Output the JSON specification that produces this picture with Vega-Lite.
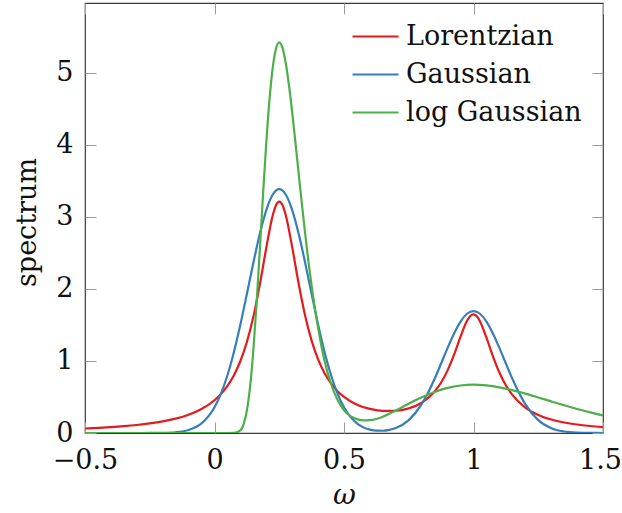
{
  "$schema": "https://vega.github.io/schema/vega-lite/v6.json",
  "width": 518,
  "height": 430,
  "autosize": {"type": "none"},
  "padding": {"left": 85, "top": 3, "right": 19, "bottom": 80},
  "background": "white",
  "data": {
    "values": [
      {"w": -0.5, "s": "Lorentzian", "v": 0.0626},
      {"w": -0.45, "s": "Lorentzian", "v": 0.0712},
      {"w": -0.4, "s": "Lorentzian", "v": 0.0817},
      {"w": -0.35, "s": "Lorentzian", "v": 0.0947},
      {"w": -0.3, "s": "Lorentzian", "v": 0.1112},
      {"w": -0.25, "s": "Lorentzian", "v": 0.1325},
      {"w": -0.2, "s": "Lorentzian", "v": 0.1608},
      {"w": -0.15, "s": "Lorentzian", "v": 0.1992},
      {"w": -0.1, "s": "Lorentzian", "v": 0.2533},
      {"w": -0.05, "s": "Lorentzian", "v": 0.3326},
      {"w": 0, "s": "Lorentzian", "v": 0.4548},
      {"w": 0.025, "s": "Lorentzian", "v": 0.5416},
      {"w": 0.05, "s": "Lorentzian", "v": 0.6541},
      {"w": 0.075, "s": "Lorentzian", "v": 0.8019},
      {"w": 0.1, "s": "Lorentzian", "v": 0.9988},
      {"w": 0.125, "s": "Lorentzian", "v": 1.2627},
      {"w": 0.15, "s": "Lorentzian", "v": 1.6133},
      {"w": 0.175, "s": "Lorentzian", "v": 2.0602},
      {"w": 0.2, "s": "Lorentzian", "v": 2.571},
      {"w": 0.225, "s": "Lorentzian", "v": 3.0219},
      {"w": 0.2375, "s": "Lorentzian", "v": 3.1611},
      {"w": 0.25, "s": "Lorentzian", "v": 3.2109},
      {"w": 0.2625, "s": "Lorentzian", "v": 3.1629},
      {"w": 0.275, "s": "Lorentzian", "v": 3.0256},
      {"w": 0.3, "s": "Lorentzian", "v": 2.5783},
      {"w": 0.325, "s": "Lorentzian", "v": 2.0714},
      {"w": 0.35, "s": "Lorentzian", "v": 1.6284},
      {"w": 0.375, "s": "Lorentzian", "v": 1.2819},
      {"w": 0.4, "s": "Lorentzian", "v": 1.0224},
      {"w": 0.425, "s": "Lorentzian", "v": 0.8303},
      {"w": 0.45, "s": "Lorentzian", "v": 0.6876},
      {"w": 0.475, "s": "Lorentzian", "v": 0.5808},
      {"w": 0.5, "s": "Lorentzian", "v": 0.5003},
      {"w": 0.55, "s": "Lorentzian", "v": 0.3932},
      {"w": 0.6, "s": "Lorentzian", "v": 0.3339},
      {"w": 0.65, "s": "Lorentzian", "v": 0.3074},
      {"w": 0.7, "s": "Lorentzian", "v": 0.3089},
      {"w": 0.75, "s": "Lorentzian", "v": 0.342},
      {"w": 0.8, "s": "Lorentzian", "v": 0.4202},
      {"w": 0.85, "s": "Lorentzian", "v": 0.5757},
      {"w": 0.875, "s": "Lorentzian", "v": 0.7005},
      {"w": 0.9, "s": "Lorentzian", "v": 0.8694},
      {"w": 0.925, "s": "Lorentzian", "v": 1.087},
      {"w": 0.95, "s": "Lorentzian", "v": 1.3369},
      {"w": 0.975, "s": "Lorentzian", "v": 1.5574},
      {"w": 0.9875, "s": "Lorentzian", "v": 1.6246},
      {"w": 1.0, "s": "Lorentzian", "v": 1.6472},
      {"w": 1.0125, "s": "Lorentzian", "v": 1.6209},
      {"w": 1.025, "s": "Lorentzian", "v": 1.5501},
      {"w": 1.05, "s": "Lorentzian", "v": 1.3222},
      {"w": 1.075, "s": "Lorentzian", "v": 1.0647},
      {"w": 1.1, "s": "Lorentzian", "v": 0.8392},
      {"w": 1.125, "s": "Lorentzian", "v": 0.6621},
      {"w": 1.15, "s": "Lorentzian", "v": 0.5285},
      {"w": 1.2, "s": "Lorentzian", "v": 0.3532},
      {"w": 1.25, "s": "Lorentzian", "v": 0.251},
      {"w": 1.3, "s": "Lorentzian", "v": 0.1878},
      {"w": 1.35, "s": "Lorentzian", "v": 0.1462},
      {"w": 1.4, "s": "Lorentzian", "v": 0.1175},
      {"w": 1.45, "s": "Lorentzian", "v": 0.0969},
      {"w": 1.5, "s": "Lorentzian", "v": 0.0815},

      {"w": -0.5, "s": "Gaussian", "v": 0},
      {"w": -0.4, "s": "Gaussian", "v": 0},
      {"w": -0.3, "s": "Gaussian", "v": 0.0001},
      {"w": -0.25, "s": "Gaussian", "v": 0.0004},
      {"w": -0.2, "s": "Gaussian", "v": 0.0023},
      {"w": -0.15, "s": "Gaussian", "v": 0.0107},
      {"w": -0.1, "s": "Gaussian", "v": 0.0412},
      {"w": -0.05, "s": "Gaussian", "v": 0.1326},
      {"w": 0, "s": "Gaussian", "v": 0.3568},
      {"w": 0.025, "s": "Gaussian", "v": 0.5471},
      {"w": 0.05, "s": "Gaussian", "v": 0.802},
      {"w": 0.075, "s": "Gaussian", "v": 1.124},
      {"w": 0.1, "s": "Gaussian", "v": 1.5059},
      {"w": 0.125, "s": "Gaussian", "v": 1.9287},
      {"w": 0.15, "s": "Gaussian", "v": 2.3616},
      {"w": 0.175, "s": "Gaussian", "v": 2.7645},
      {"w": 0.2, "s": "Gaussian", "v": 3.0937},
      {"w": 0.225, "s": "Gaussian", "v": 3.3097},
      {"w": 0.25, "s": "Gaussian", "v": 3.385},
      {"w": 0.275, "s": "Gaussian", "v": 3.3097},
      {"w": 0.3, "s": "Gaussian", "v": 3.0937},
      {"w": 0.325, "s": "Gaussian", "v": 2.7645},
      {"w": 0.35, "s": "Gaussian", "v": 2.3616},
      {"w": 0.375, "s": "Gaussian", "v": 1.9287},
      {"w": 0.4, "s": "Gaussian", "v": 1.5059},
      {"w": 0.425, "s": "Gaussian", "v": 1.124},
      {"w": 0.45, "s": "Gaussian", "v": 0.802},
      {"w": 0.475, "s": "Gaussian", "v": 0.5472},
      {"w": 0.5, "s": "Gaussian", "v": 0.357},
      {"w": 0.55, "s": "Gaussian", "v": 0.1338},
      {"w": 0.575, "s": "Gaussian", "v": 0.078},
      {"w": 0.6, "s": "Gaussian", "v": 0.0465},
      {"w": 0.625, "s": "Gaussian", "v": 0.0321},
      {"w": 0.65, "s": "Gaussian", "v": 0.0313},
      {"w": 0.675, "s": "Gaussian", "v": 0.0429},
      {"w": 0.7, "s": "Gaussian", "v": 0.0686},
      {"w": 0.75, "s": "Gaussian", "v": 0.1788},
      {"w": 0.8, "s": "Gaussian", "v": 0.4011},
      {"w": 0.85, "s": "Gaussian", "v": 0.7529},
      {"w": 0.875, "s": "Gaussian", "v": 0.9643},
      {"w": 0.9, "s": "Gaussian", "v": 1.1808},
      {"w": 0.925, "s": "Gaussian", "v": 1.3822},
      {"w": 0.95, "s": "Gaussian", "v": 1.5468},
      {"w": 0.975, "s": "Gaussian", "v": 1.6548},
      {"w": 1.0, "s": "Gaussian", "v": 1.6925},
      {"w": 1.025, "s": "Gaussian", "v": 1.6548},
      {"w": 1.05, "s": "Gaussian", "v": 1.5468},
      {"w": 1.075, "s": "Gaussian", "v": 1.3822},
      {"w": 1.1, "s": "Gaussian", "v": 1.1808},
      {"w": 1.125, "s": "Gaussian", "v": 0.9643},
      {"w": 1.15, "s": "Gaussian", "v": 0.7529},
      {"w": 1.2, "s": "Gaussian", "v": 0.401},
      {"w": 1.25, "s": "Gaussian", "v": 0.1784},
      {"w": 1.3, "s": "Gaussian", "v": 0.0663},
      {"w": 1.35, "s": "Gaussian", "v": 0.0206},
      {"w": 1.4, "s": "Gaussian", "v": 0.0053},
      {"w": 1.45, "s": "Gaussian", "v": 0.0012},
      {"w": 1.5, "s": "Gaussian", "v": 0.0002},

      {"w": -0.5, "s": "log Gaussian", "v": 0},
      {"w": 0, "s": "log Gaussian", "v": 0},
      {"w": 0.05, "s": "log Gaussian", "v": 0},
      {"w": 0.075, "s": "log Gaussian", "v": 0.001},
      {"w": 0.1, "s": "log Gaussian", "v": 0.0368},
      {"w": 0.1125, "s": "log Gaussian", "v": 0.1224},
      {"w": 0.125, "s": "log Gaussian", "v": 0.3115},
      {"w": 0.1375, "s": "log Gaussian", "v": 0.6473},
      {"w": 0.15, "s": "log Gaussian", "v": 1.1488},
      {"w": 0.1625, "s": "log Gaussian", "v": 1.7982},
      {"w": 0.175, "s": "log Gaussian", "v": 2.5441},
      {"w": 0.1875, "s": "log Gaussian", "v": 3.3136},
      {"w": 0.2, "s": "log Gaussian", "v": 4.0313},
      {"w": 0.2125, "s": "log Gaussian", "v": 4.6324},
      {"w": 0.225, "s": "log Gaussian", "v": 5.0738},
      {"w": 0.2375, "s": "log Gaussian", "v": 5.3359},
      {"w": 0.25, "s": "log Gaussian", "v": 5.42},
      {"w": 0.2625, "s": "log Gaussian", "v": 5.3438},
      {"w": 0.275, "s": "log Gaussian", "v": 5.1351},
      {"w": 0.2875, "s": "log Gaussian", "v": 4.8257},
      {"w": 0.3, "s": "log Gaussian", "v": 4.4481},
      {"w": 0.3125, "s": "log Gaussian", "v": 4.0315},
      {"w": 0.325, "s": "log Gaussian", "v": 3.6003},
      {"w": 0.3375, "s": "log Gaussian", "v": 3.1734},
      {"w": 0.35, "s": "log Gaussian", "v": 2.7658},
      {"w": 0.3625, "s": "log Gaussian", "v": 2.3864},
      {"w": 0.375, "s": "log Gaussian", "v": 2.0412},
      {"w": 0.3875, "s": "log Gaussian", "v": 1.7329},
      {"w": 0.4, "s": "log Gaussian", "v": 1.4613},
      {"w": 0.425, "s": "log Gaussian", "v": 1.0},
      {"w": 0.45, "s": "log Gaussian", "v": 0.68},
      {"w": 0.475, "s": "log Gaussian", "v": 0.46},
      {"w": 0.5, "s": "log Gaussian", "v": 0.315},
      {"w": 0.525, "s": "log Gaussian", "v": 0.235},
      {"w": 0.55, "s": "log Gaussian", "v": 0.192},
      {"w": 0.575, "s": "log Gaussian", "v": 0.175},
      {"w": 0.6, "s": "log Gaussian", "v": 0.178},
      {"w": 0.65, "s": "log Gaussian", "v": 0.226},
      {"w": 0.7, "s": "log Gaussian", "v": 0.312},
      {"w": 0.75, "s": "log Gaussian", "v": 0.4067},
      {"w": 0.8, "s": "log Gaussian", "v": 0.4948},
      {"w": 0.85, "s": "log Gaussian", "v": 0.5702},
      {"w": 0.9, "s": "log Gaussian", "v": 0.6257},
      {"w": 0.95, "s": "log Gaussian", "v": 0.6592},
      {"w": 1.0, "s": "log Gaussian", "v": 0.67},
      {"w": 1.05, "s": "log Gaussian", "v": 0.6603},
      {"w": 1.1, "s": "log Gaussian", "v": 0.6336},
      {"w": 1.15, "s": "log Gaussian", "v": 0.5941},
      {"w": 1.2, "s": "log Gaussian", "v": 0.546},
      {"w": 1.25, "s": "log Gaussian", "v": 0.4931},
      {"w": 1.3, "s": "log Gaussian", "v": 0.4386},
      {"w": 1.35, "s": "log Gaussian", "v": 0.3849},
      {"w": 1.4, "s": "log Gaussian", "v": 0.3338},
      {"w": 1.45, "s": "log Gaussian", "v": 0.2864},
      {"w": 1.5, "s": "log Gaussian", "v": 0.2435}
    ]
  },
  "layer": [
    {
      "mark": {"type": "line", "interpolate": "monotone", "strokeWidth": 2.2, "clip": true},
      "encoding": {
        "x": {
          "field": "w", "type": "quantitative",
          "scale": {"domain": [-0.5, 1.5], "nice": false, "zero": false},
          "axis": {
            "orient": "bottom", "values": [-0.5, 0, 0.5, 1, 1.5], "format": "~g",
            "domain": false, "grid": false, "tickSize": -11, "tickColor": "#9a9a9a", "tickWidth": 1,
            "labelFont": "DejaVu Serif", "labelFontSize": 27, "labelColor": "#111111",
            "labelBaseline": "alphabetic", "labelPadding": 46, "labelFlush": false, "labelOverlap": false,
            "labelOffset": {"condition": {"test": "datum.value == 1.5", "value": -3}, "value": 0},
            "title": "ω", "titleFont": "DejaVu Serif", "titleFontStyle": "italic", "titleFontSize": 28,
            "titleFontWeight": "normal", "titleColor": "#111111", "titleBaseline": "alphabetic", "titleY": 70
          }
        },
        "y": {
          "field": "v", "type": "quantitative",
          "scale": {"domain": [0, 5.967], "nice": false},
          "axis": {
            "orient": "left", "values": [0, 1, 2, 3, 4, 5], "format": "~g",
            "domain": false, "grid": false, "tickSize": -11, "tickColor": "#9a9a9a", "tickWidth": 1,
            "labelFont": "DejaVu Serif", "labelFontSize": 27, "labelColor": "#111111",
            "labelBaseline": "middle", "labelAlign": "right", "labelPadding": 23, "labelFlush": false, "labelOverlap": false,
            "title": "spectrum", "titleFont": "DejaVu Serif", "titleFontSize": 27, "titleFontWeight": "normal",
            "titleColor": "#111111", "titleAngle": 270, "titleBaseline": "alphabetic", "titleAlign": "center",
            "titleX": -50, "titleY": 219
          }
        },
        "color": {
          "field": "s", "type": "nominal",
          "scale": {"domain": ["Lorentzian", "Gaussian", "log Gaussian"], "range": ["#e41a1c", "#377eb8", "#4daf4a"]},
          "legend": {
            "orient": "none", "legendX": 266, "legendY": 9, "title": null, "padding": 0,
            "symbolType": "stroke", "symbolSize": 2116, "symbolStrokeWidth": 2.2,
            "labelFont": "DejaVu Serif", "labelFontSize": 27, "labelColor": "#111111",
            "labelOffset": 6, "labelLimit": 0, "rowPadding": -8
          }
        }
      }
    },
    {
      "mark": {"type": "point", "opacity": 0},
      "encoding": {
        "x": {
          "field": "w", "type": "quantitative",
          "axis": {"orient": "top", "values": [-0.5, 0, 0.5, 1, 1.5], "labels": false, "domain": false, "grid": false,
                   "tickSize": -11, "tickColor": "#9a9a9a", "tickWidth": 1, "title": null}
        },
        "y": {
          "field": "v", "type": "quantitative",
          "axis": {"orient": "right", "values": [0, 1, 2, 3, 4, 5], "labels": false, "domain": false, "grid": false,
                   "tickSize": -11, "tickColor": "#9a9a9a", "tickWidth": 1, "title": null}
        }
      }
    }
  ],
  "resolve": {"axis": {"x": "independent", "y": "independent"}},
  "config": {
    "view": {"stroke": "#3a3a3a", "strokeWidth": 1.2},
    "font": "DejaVu Serif"
  }
}
